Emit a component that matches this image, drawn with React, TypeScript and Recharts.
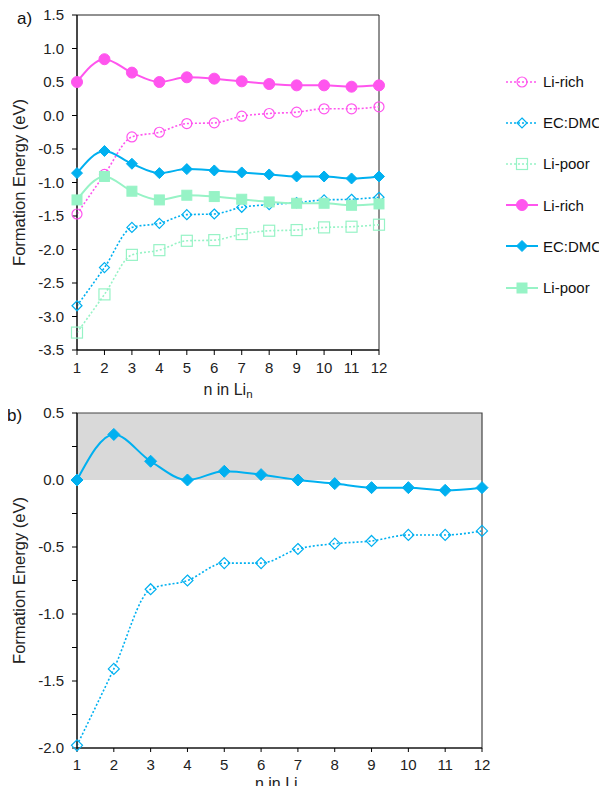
import React from 'react';
import {
  LineChart, Line, XAxis, YAxis, Legend, ReferenceArea
} from 'recharts';

// n in Li_n
const nValues = [1, 2, 3, 4, 5, 6, 7, 8, 9, 10, 11, 12];

// panel a) — dotted (open markers)
const richOpen = [-1.47, -0.88, -0.32, -0.25, -0.12, -0.11, -0.01, 0.03, 0.05, 0.10, 0.10, 0.13];
const ecOpen = [-2.84, -2.27, -1.67, -1.61, -1.48, -1.47, -1.37, -1.33, -1.30, -1.26, -1.25, -1.22];
const poorOpen = [-3.24, -2.67, -2.08, -2.01, -1.87, -1.86, -1.77, -1.72, -1.71, -1.67, -1.66, -1.63];
// panel a) — solid (filled markers)
const richFilled = [0.50, 0.84, 0.64, 0.50, 0.57, 0.55, 0.51, 0.47, 0.45, 0.45, 0.43, 0.45];
const ecFilled = [-0.86, -0.53, -0.72, -0.86, -0.80, -0.82, -0.85, -0.88, -0.91, -0.91, -0.94, -0.91];
const poorFilled = [-1.26, -0.91, -1.13, -1.26, -1.19, -1.21, -1.25, -1.29, -1.31, -1.31, -1.34, -1.32];

// panel b)
const bSolid = [0.0, 0.34, 0.14, 0.0, 0.065, 0.04, 0.0, -0.027, -0.057, -0.057, -0.077, -0.057];
const bDotted = [-1.98, -1.41, -0.815, -0.75, -0.62, -0.62, -0.515, -0.475, -0.455, -0.41, -0.41, -0.38];

const ticksA = [-3.5, -3, -2.5, -2, -1.5, -1, -0.5, 0, 0.5, 1, 1.5];
const ticksB = [-2, -1.75, -1.5, -1.25, -1, -0.75, -0.5, -0.25, 0, 0.25, 0.5];

const PINK = '#FF55EE';
const BLUE = '#00B0F0';
const GREEN = '#97F3C6';
const FONT = '"Liberation Sans", Arial, sans-serif';

const dataA = nValues.map((n, i) => ({
  n,
  richOpen: richOpen[i], ecOpen: ecOpen[i], poorOpen: poorOpen[i],
  richFilled: richFilled[i], ecFilled: ecFilled[i], poorFilled: poorFilled[i],
}));
const dataB = nValues.map((n, i) => ({ n, solid: bSolid[i], dotted: bDotted[i] }));

type Shape = 'circle' | 'diamond' | 'square';

function Marker({ cx, cy, shape, color, filled, size }: any) {
  const h = size / 2;
  const common = {
    fill: filled ? color : 'none',
    stroke: color,
    strokeWidth: filled ? 1 : 1.2,
  };
  if (shape === 'circle') return <circle cx={cx} cy={cy} r={h} {...common} />;
  if (shape === 'square') return <rect x={cx - h} y={cy - h} width={size} height={size} {...common} />;
  return <polygon points={`${cx},${cy - h} ${cx + h},${cy} ${cx},${cy + h} ${cx - h},${cy}`} {...common} />;
}

const makeDot = (shape: Shape, color: string, filled: boolean, size: number) => (p: any) => (
  <Marker key={p.index} cx={p.cx} cy={p.cy} shape={shape} color={color} filled={filled} size={size} />
);

const legendItems = [
  { label: 'Li-rich', shape: 'circle', color: PINK, filled: false, size: 10 },
  { label: 'EC:DMC', shape: 'diamond', color: BLUE, filled: false, size: 10 },
  { label: 'Li-poor', shape: 'square', color: GREEN, filled: false, size: 11 },
  { label: 'Li-rich', shape: 'circle', color: PINK, filled: true, size: 11 },
  { label: 'EC:DMC', shape: 'diamond', color: BLUE, filled: true, size: 11 },
  { label: 'Li-poor', shape: 'square', color: GREEN, filled: true, size: 10 },
];

const SideLegend = () => (
  <div style={{ fontFamily: FONT, fontSize: 15, color: '#111' }}>
    {legendItems.map((it, idx) => (
      <div key={idx} style={{ display: 'flex', alignItems: 'center', height: 41.2 }}>
        <svg width={40} height={16}>
          <line x1={1} y1={8} x2={33} y2={8} stroke={it.color}
            strokeWidth={it.filled ? 2 : 1.6} strokeDasharray={it.filled ? undefined : '2 2'} />
          <Marker cx={17} cy={8} shape={it.shape} color={it.color} filled={it.filled} size={it.size} />
        </svg>
        <span style={{ marginLeft: -2 }}>{it.label}</span>
      </div>
    ))}
  </div>
);

const yLabel = (props: any) => {
  const { viewBox } = props;
  const x = 19;
  const y = viewBox.y + viewBox.height / 2;
  return (
    <text x={x} y={y} transform={`rotate(-90, ${x}, ${y})`} textAnchor="middle"
      dominantBaseline="central" fontFamily={FONT} fontSize={16.5} fill="#222">
      Formation Energy (eV)
    </text>
  );
};

const makeXLabel = (below: number) => (props: any) => {
  const { viewBox } = props;
  return (
    <text x={viewBox.x + viewBox.width / 2} y={viewBox.y + below} textAnchor="middle"
      fontFamily={FONT} fontSize={16} fill="#222">
      n in Li<tspan fontSize={11.5} dy={3}>n</tspan>
    </text>
  );
};

const tickStyle = { fontFamily: FONT, fontSize: 15, fill: '#222' };

export default function App() {
  return (
    <div style={{ position: 'relative', width: 607, height: 794, margin: -8, overflow: 'hidden' }}>
      <div style={{ position: 'absolute', left: 0, top: 0 }}>
        <LineChart width={607} height={400} data={dataA} margin={{ top: 15, right: 128, left: 17, bottom: 20 }}>
          <XAxis dataKey="n" type="number" domain={[1, 12]} ticks={nValues} interval={0}
            stroke="#000" tickSize={5} tickMargin={7} tick={tickStyle} label={{ content: makeXLabel(45) }} height={30} />
          <YAxis type="number" domain={[-3.5, 1.5]} ticks={ticksA} interval={0} width={60}
            stroke="#000" tickSize={5} tickMargin={8} tick={tickStyle}
            tickFormatter={(v: number) => v.toFixed(1)} label={{ content: yLabel }} />
          <ReferenceArea x1={1} x2={12} y1={-3.5} y2={1.5} fill="none" stroke="#222" strokeWidth={1} />
          <Legend layout="vertical" align="right" verticalAlign="top" content={<SideLegend />}
            wrapperStyle={{ left: 505, top: 61, width: 100 }} />
          <Line type="monotone" dataKey="richOpen" stroke={PINK} strokeWidth={1.6} strokeDasharray="2 2"
            dot={makeDot('circle', PINK, false, 10)} isAnimationActive={false} />
          <Line type="monotone" dataKey="ecOpen" stroke={BLUE} strokeWidth={1.6} strokeDasharray="2 2"
            dot={makeDot('diamond', BLUE, false, 10)} isAnimationActive={false} />
          <Line type="monotone" dataKey="poorOpen" stroke={GREEN} strokeWidth={1.6} strokeDasharray="2 2"
            dot={makeDot('square', GREEN, false, 11)} isAnimationActive={false} />
          <Line type="monotone" dataKey="richFilled" stroke={PINK} strokeWidth={2}
            dot={makeDot('circle', PINK, true, 11)} isAnimationActive={false} />
          <Line type="monotone" dataKey="ecFilled" stroke={BLUE} strokeWidth={2}
            dot={makeDot('diamond', BLUE, true, 11)} isAnimationActive={false} />
          <Line type="monotone" dataKey="poorFilled" stroke={GREEN} strokeWidth={2}
            dot={makeDot('square', GREEN, true, 10)} isAnimationActive={false} />
        </LineChart>
      </div>

      <div style={{ position: 'absolute', left: 0, top: 394 }}>
        <LineChart width={607} height={400} data={dataB} margin={{ top: 19, right: 125, left: 17, bottom: 16 }}>
          <ReferenceArea x1={1} x2={12} y1={0} y2={0.5} fill="#D9D9D9" fillOpacity={1} stroke="none" />
          <XAxis dataKey="n" type="number" domain={[1, 12]} ticks={nValues} interval={0}
            stroke="#000" tickSize={4} tickMargin={7} tick={tickStyle} label={{ content: makeXLabel(41) }} height={30} />
          <YAxis type="number" domain={[-2, 0.5]} ticks={ticksB} interval={0} width={60}
            stroke="#000" tickSize={5} tickMargin={8} tick={tickStyle}
            tickFormatter={(v: number) => (Math.abs(v * 2 - Math.round(v * 2)) < 1e-6 ? v.toFixed(1) : '')}
            label={{ content: yLabel }} />
          <ReferenceArea x1={1} x2={12} y1={-2} y2={0.5} fill="none" stroke="#444" strokeWidth={1.2} />
          <Line type="monotone" dataKey="dotted" stroke={BLUE} strokeWidth={1.6} strokeDasharray="2 2"
            dot={makeDot('diamond', BLUE, false, 11)} isAnimationActive={false} />
          <Line type="monotone" dataKey="solid" stroke={BLUE} strokeWidth={2}
            dot={makeDot('diamond', BLUE, true, 12)} isAnimationActive={false} />
        </LineChart>
      </div>

      <div style={{ position: 'absolute', left: 17, top: 10, fontFamily: FONT, fontSize: 17, lineHeight: '17px', color: '#111' }}>a)</div>
      <div style={{ position: 'absolute', left: 7, top: 407, fontFamily: FONT, fontSize: 17, lineHeight: '17px', color: '#111' }}>b)</div>
    </div>
  );
}
